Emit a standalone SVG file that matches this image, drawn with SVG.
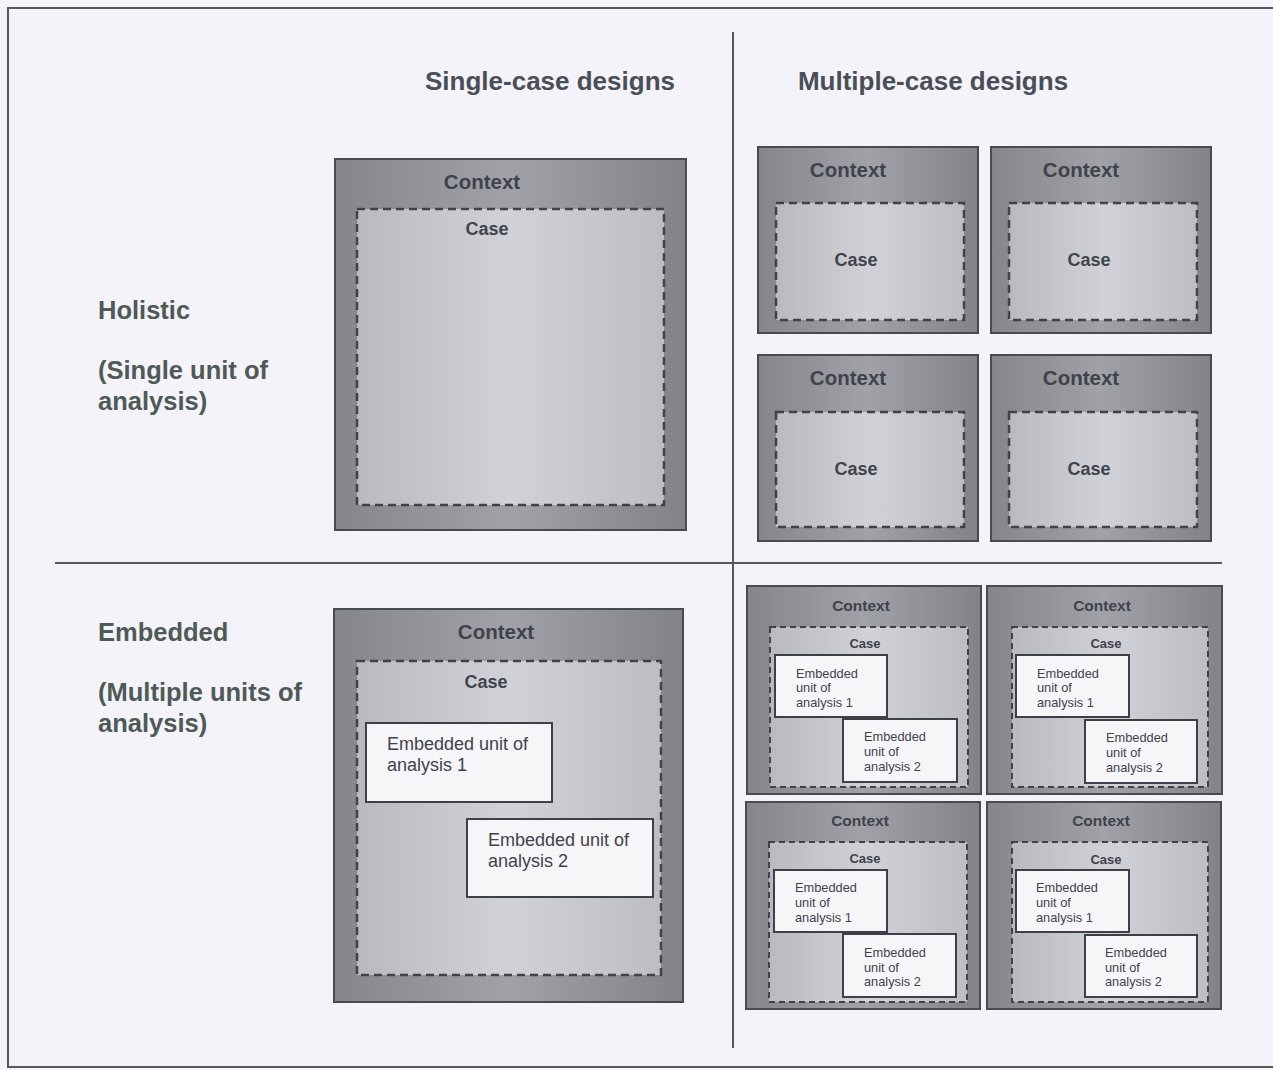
<svg xmlns="http://www.w3.org/2000/svg" width="1273" height="1070" viewBox="0 0 1273 1070">
<defs>
<linearGradient id="ctx" x1="0" y1="0" x2="1" y2="0">
<stop offset="0" stop-color="#84868c"/>
<stop offset="0.5" stop-color="#a0a2a7"/>
<stop offset="1" stop-color="#818389"/>
</linearGradient>
<linearGradient id="cas" x1="0" y1="0" x2="1" y2="0">
<stop offset="0" stop-color="#b8bac0"/>
<stop offset="0.5" stop-color="#d0d2d7"/>
<stop offset="1" stop-color="#bcbec4"/>
</linearGradient>
<style>
.ctx{fill:url(#ctx);stroke:#484b52;stroke-width:2}
.cas{fill:url(#cas);stroke:#3f4248;stroke-width:2.5;stroke-dasharray:8 5}
.cas-s{fill:url(#cas);stroke:#3f4248;stroke-width:2;stroke-dasharray:6 4}
.emb{fill:#f6f6f9;stroke:#3d4046;stroke-width:2}
.t{font-family:"Liberation Sans",Arial,sans-serif;fill:#3f434b}
.b{font-weight:bold}
.h{font-family:"Liberation Sans",Arial,sans-serif;font-weight:bold;fill:#4a4e56;font-size:26px}
.lab{font-family:"Liberation Sans",Arial,sans-serif;font-weight:bold;fill:#4e5a55;font-size:25.5px}
.line{stroke:#55585f;stroke-width:2;fill:none}
</style>
</defs>
<rect x="0" y="0" width="1273" height="1070" fill="#f3f3f9"/>
<rect x="8" y="8" width="1270" height="1059" fill="none" stroke="#55585f" stroke-width="2"/>

<g id="connectors">
<line class="line" x1="733" y1="32" x2="733" y2="1048"/>
<line class="line" x1="55" y1="563" x2="1222" y2="563"/>
</g>

<g id="headings">
<text class="h" x="550" y="90" text-anchor="middle">Single-case designs</text>
<text class="h" x="933" y="90" text-anchor="middle">Multiple-case designs</text>
</g>

<g id="label-holistic">
<text class="lab" x="98" y="319">Holistic</text>
<text class="lab" x="98" y="379">(Single unit of</text>
<text class="lab" x="98" y="410">analysis)</text>
</g>
<g id="label-embedded">
<text class="lab" x="98" y="641">Embedded</text>
<text class="lab" x="98" y="701">(Multiple units of</text>
<text class="lab" x="98" y="732">analysis)</text>
</g>

<g id="single-holistic">
<rect class="ctx" x="335" y="159" width="351" height="371"/>
<rect class="cas" x="357" y="209" width="307" height="296"/>
<text class="t b" x="482" y="189" font-size="20.5" text-anchor="middle">Context</text>
<text class="t b" x="487" y="235" font-size="18" text-anchor="middle">Case</text>
</g>

<g id="multi-holistic-1">
<rect class="ctx" x="758" y="147" width="220" height="186"/>
<rect class="cas" x="776" y="203" width="188" height="117"/>
<text class="t b" x="848" y="177" font-size="20.5" text-anchor="middle">Context</text>
<text class="t b" x="856" y="266" font-size="18" text-anchor="middle">Case</text>
</g>
<g id="multi-holistic-2">
<rect class="ctx" x="991" y="147" width="220" height="186"/>
<rect class="cas" x="1009" y="203" width="188" height="117"/>
<text class="t b" x="1081" y="177" font-size="20.5" text-anchor="middle">Context</text>
<text class="t b" x="1089" y="266" font-size="18" text-anchor="middle">Case</text>
</g>
<g id="multi-holistic-3">
<rect class="ctx" x="758" y="355" width="220" height="186"/>
<rect class="cas" x="776" y="412" width="188" height="115"/>
<text class="t b" x="848" y="385" font-size="20.5" text-anchor="middle">Context</text>
<text class="t b" x="856" y="475" font-size="18" text-anchor="middle">Case</text>
</g>
<g id="multi-holistic-4">
<rect class="ctx" x="991" y="355" width="220" height="186"/>
<rect class="cas" x="1009" y="412" width="188" height="115"/>
<text class="t b" x="1081" y="385" font-size="20.5" text-anchor="middle">Context</text>
<text class="t b" x="1089" y="475" font-size="18" text-anchor="middle">Case</text>
</g>

<g id="single-embedded">
<rect class="ctx" x="334" y="609" width="349" height="393"/>
<rect class="cas" x="357" y="661" width="304" height="314"/>
<text class="t b" x="496" y="639" font-size="20.5" text-anchor="middle">Context</text>
<text class="t b" x="486" y="688" font-size="18" text-anchor="middle">Case</text>
<rect class="emb" x="366" y="723" width="186" height="79"/>
<text class="t" x="387" y="750" font-size="18">Embedded unit of</text>
<text class="t" x="387" y="771" font-size="18">analysis 1</text>
<rect class="emb" x="467" y="819" width="186" height="78"/>
<text class="t" x="488" y="846" font-size="18">Embedded unit of</text>
<text class="t" x="488" y="867" font-size="18">analysis 2</text>
</g>

<g id="multi-embedded-1">
<rect class="ctx" x="747" y="586" width="234" height="208"/>
<rect class="cas-s" x="770" y="627" width="198" height="160"/>
<text class="t b" x="861" y="611" font-size="15.5" text-anchor="middle">Context</text>
<text class="t b" x="865" y="648" font-size="13" text-anchor="middle">Case</text>
<rect class="emb" x="775" y="655" width="112" height="62"/>
<text class="t" x="796" y="678" font-size="12.8">Embedded</text>
<text class="t" x="796" y="692" font-size="12.8">unit of</text>
<text class="t" x="796" y="707" font-size="12.8">analysis 1</text>
<rect class="emb" x="843" y="719" width="114" height="63"/>
<text class="t" x="864" y="741" font-size="12.8">Embedded</text>
<text class="t" x="864" y="756" font-size="12.8">unit of</text>
<text class="t" x="864" y="771" font-size="12.8">analysis 2</text>
</g>
<g id="multi-embedded-2">
<rect class="ctx" x="987" y="586" width="235" height="208"/>
<rect class="cas-s" x="1012" y="627" width="196" height="160"/>
<text class="t b" x="1102" y="611" font-size="15.5" text-anchor="middle">Context</text>
<text class="t b" x="1106" y="648" font-size="13" text-anchor="middle">Case</text>
<rect class="emb" x="1016" y="655" width="113" height="62"/>
<text class="t" x="1037" y="678" font-size="12.8">Embedded</text>
<text class="t" x="1037" y="692" font-size="12.8">unit of</text>
<text class="t" x="1037" y="707" font-size="12.8">analysis 1</text>
<rect class="emb" x="1085" y="720" width="112" height="63"/>
<text class="t" x="1106" y="742" font-size="12.8">Embedded</text>
<text class="t" x="1106" y="757" font-size="12.8">unit of</text>
<text class="t" x="1106" y="772" font-size="12.8">analysis 2</text>
</g>
<g id="multi-embedded-3">
<rect class="ctx" x="746" y="802" width="234" height="207"/>
<rect class="cas-s" x="769" y="842" width="198" height="160"/>
<text class="t b" x="860" y="826" font-size="15.5" text-anchor="middle">Context</text>
<text class="t b" x="865" y="863" font-size="13" text-anchor="middle">Case</text>
<rect class="emb" x="774" y="870" width="113" height="62"/>
<text class="t" x="795" y="892" font-size="12.8">Embedded</text>
<text class="t" x="795" y="907" font-size="12.8">unit of</text>
<text class="t" x="795" y="922" font-size="12.8">analysis 1</text>
<rect class="emb" x="843" y="934" width="113" height="63"/>
<text class="t" x="864" y="957" font-size="12.8">Embedded</text>
<text class="t" x="864" y="972" font-size="12.8">unit of</text>
<text class="t" x="864" y="986" font-size="12.8">analysis 2</text>
</g>
<g id="multi-embedded-4">
<rect class="ctx" x="987" y="802" width="234" height="207"/>
<rect class="cas-s" x="1012" y="842" width="196" height="160"/>
<text class="t b" x="1101" y="826" font-size="15.5" text-anchor="middle">Context</text>
<text class="t b" x="1106" y="864" font-size="13" text-anchor="middle">Case</text>
<rect class="emb" x="1016" y="870" width="113" height="62"/>
<text class="t" x="1036" y="892" font-size="12.8">Embedded</text>
<text class="t" x="1036" y="907" font-size="12.8">unit of</text>
<text class="t" x="1036" y="922" font-size="12.8">analysis 1</text>
<rect class="emb" x="1085" y="935" width="112" height="62"/>
<text class="t" x="1105" y="957" font-size="12.8">Embedded</text>
<text class="t" x="1105" y="972" font-size="12.8">unit of</text>
<text class="t" x="1105" y="986" font-size="12.8">analysis 2</text>
</g>
</svg>
